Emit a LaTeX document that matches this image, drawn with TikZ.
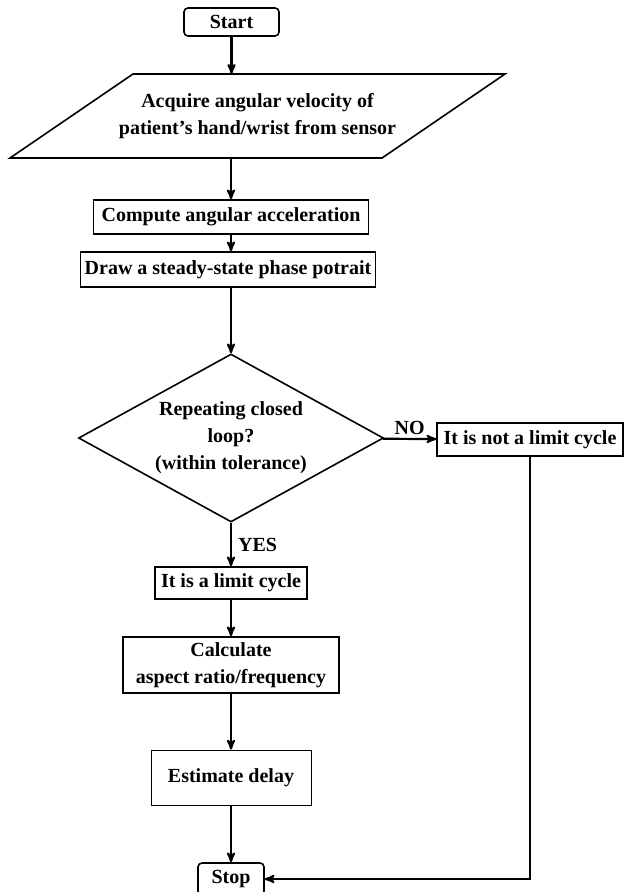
\documentclass[tikz,border=0pt]{standalone}
\usepackage{fontspec}
\setmainfont{Liberation Serif}
\usetikzlibrary{arrows}
\usetikzlibrary{shapes.geometric}

\begin{document}
\begin{tikzpicture}[x=1pt, y=-1pt, >=stealth',
  every node/.style={font=\bfseries\fontsize{20}{27}\selectfont, inner sep=0, align=center},
  box/.style={draw, line width=1.6pt},
  term/.style={box, rounded corners=4pt},
  flow/.style={line width=2.2pt, ->}]
\useasboundingbox (0,0) rectangle (624,892);
\node[term, minimum width=95, minimum height=28] (start) at (231.5,22) {Start};
\node[minimum width=300, minimum height=84] (acquire) at (257.5,116) {Acquire angular velocity of\\patient's hand/wrist from sensor};
\draw[line width=1.6pt] (10,158) -- (133,74) -- (505,74) -- (382,158) -- cycle;
\node[box, minimum width=275, minimum height=34] (compute) at (231,217) {Compute angular acceleration};
\node[box, minimum width=295, minimum height=35] (phase) at (228,269.5) {Draw a steady-state phase potrait};
\node[box, shape=diamond, aspect=1.8, minimum width=305, minimum height=168] (loop) at (231,438) {Repeating closed\\loop?\\(within tolerance)};
\node[box, minimum width=186, minimum height=33] (notlimit) at (530,439.5) {It is not a limit cycle};
\node[box, minimum width=152, minimum height=32] (limit) at (231,583) {It is a limit cycle};
\node[box, minimum width=216, minimum height=56] (calc) at (231,665) {Calculate\\aspect ratio/frequency};
\node[draw, line width=1pt, minimum width=160, minimum height=55] (delay) at (231,777.5) {Estimate delay};
\node[term, minimum width=66, minimum height=32] (stop) at (231,879) {Stop};

% arrows
\draw[flow] (start) -- (start.south |- acquire.north);
\draw[flow] (compute.north |- acquire.south) -- (compute);
\draw[flow] (compute) -- (compute.south |- phase.north);
\draw[flow] (loop.north |- phase.south) -- (loop.north);
\draw[flow] (loop) -- node[above=3pt]{NO} (notlimit);
\draw[flow] (loop) -- node[right=6pt]{YES} (limit);
\draw[flow] (limit) -- (calc);
\draw[flow] (calc) -- (delay);
\draw[flow] (delay) -- (stop);
\draw[flow] (notlimit) |- (stop);
\end{tikzpicture}
\end{document}
